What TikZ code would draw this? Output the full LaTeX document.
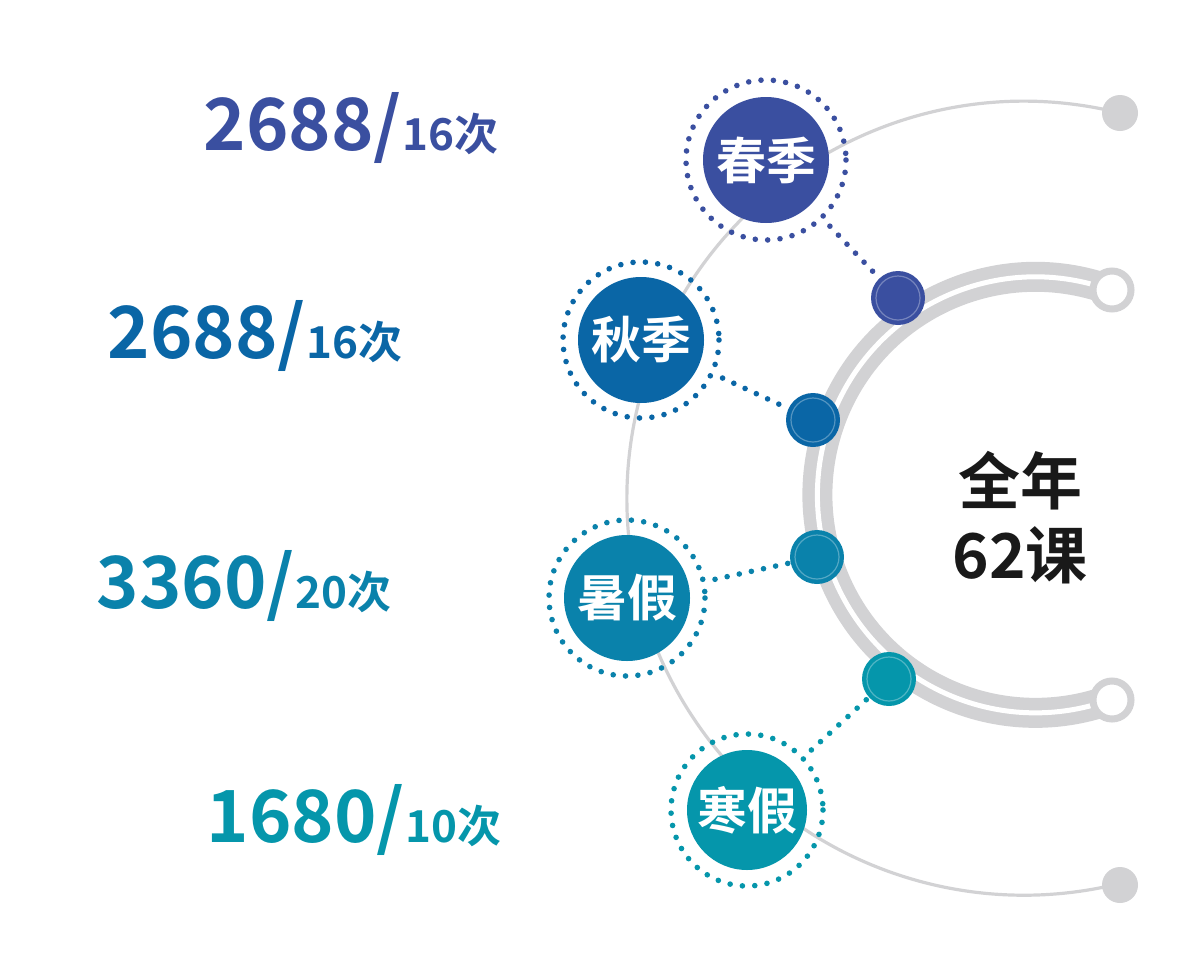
\documentclass[tikz,border=0pt]{standalone}
\usepackage{fontspec}
\newfontfamily\cjk{Noto Sans CJK SC Bold}
\definecolor{cA}{HTML}{3A4FA0}
\definecolor{cB}{HTML}{0A66A6}
\definecolor{cC}{HTML}{0A82AB}
\definecolor{cD}{HTML}{0596AB}
\definecolor{gr}{HTML}{D2D2D4}
\begin{document}
\begin{tikzpicture}[x=0.5pt,y=-0.5pt,
  big/.style={circle,minimum size=63pt,inner sep=0,text=white,font=\cjk\fontsize{25}{25}\selectfont},
  ring/.style={line width=2.8pt,line cap=round,dash pattern=on 0pt off 6.2pt},
  small/.style={circle,minimum size=27pt,inner sep=0},
  num/.style={anchor=base east,inner sep=0,font=\cjk\fontsize{36}{36}\selectfont},
  cnt/.style={anchor=base west,inner sep=0,font=\cjk\fontsize{22}{22}\selectfont}]
\useasboundingbox (0,0) rectangle (1200,964);
% outer thin arc
\draw[gr,line width=1.6pt] (1120,113) arc[start angle=-76,end angle=-284,radius=397];
\fill[gr] (1120,113) circle[radius=18];
\fill[gr] (1120,885) circle[radius=18];
% inner double arc
\draw[gr,line width=15pt] (1110,290) arc[start angle=-70,end angle=-290,radius=218];
\draw[white,line width=2.5pt] (1110,290) arc[start angle=-70,end angle=-290,radius=218];
\draw[gr,line width=3.5pt,fill=white] (1112,290) circle[radius=19];
\draw[gr,line width=3.5pt,fill=white] (1112,700) circle[radius=19];
% big circles
\node[big,fill=cA] (b1) at (766,160) {春季};
\node[big,fill=cB] (b2) at (641,340) {秋季};
\node[big,fill=cC] (b3) at (627,598) {暑假};
\node[big,fill=cD,minimum size=60pt] (b4) at (747,810) {寒假};
\draw[ring,cA] (b1.center) circle[radius=80];
\draw[ring,cB] (b2.center) circle[radius=78];
\draw[ring,cC] (b3.center) circle[radius=78];
\draw[ring,cD] (b4.center) circle[radius=76];
% small circles
\node[small,fill=cA] (s1) at (898,298) {};
\node[small,fill=cB] (s2) at (813,420) {};
\node[small,fill=cC] (s3) at (817,557) {};
\node[small,fill=cD] (s4) at (889,679) {};
\foreach \s in {s1,s2,s3,s4} \draw[white,opacity=0.3,line width=0.6pt] (\s.center) circle[radius=22];
% connectors
\draw[ring,cA] (b1.center) ++(46:92) -- (s1);
\draw[ring,cB] (b2.center) ++(25:90) -- (s2);
\draw[ring,cC] (b3.center) ++(-12:90) -- (s3);
\draw[ring,cD] (b4.center) ++(-43:88) -- (s4);
% labels
\node[num,text=cA] (n1) at (402,150) {2688/};
\node[cnt,text=cA] (m1) at (n1.base east) {16次};
\node[num,text=cB] (n2) at (306,358) {2688/};
\node[cnt,text=cB] (m2) at (n2.base east) {16次};
\node[num,text=cC] (n3) at (295,608) {3360/};
\node[cnt,text=cC] (m3) at (n3.base east) {20次};
\node[num,text=cD] (n4) at (405,842) {1680/};
\node[cnt,text=cD] (m4) at (n4.base east) {10次};
\node[align=center,text=black!90,font=\cjk\fontsize{31}{37}\selectfont] (t) at (1020,518) {全年\\62课};
\end{tikzpicture}
\end{document}
